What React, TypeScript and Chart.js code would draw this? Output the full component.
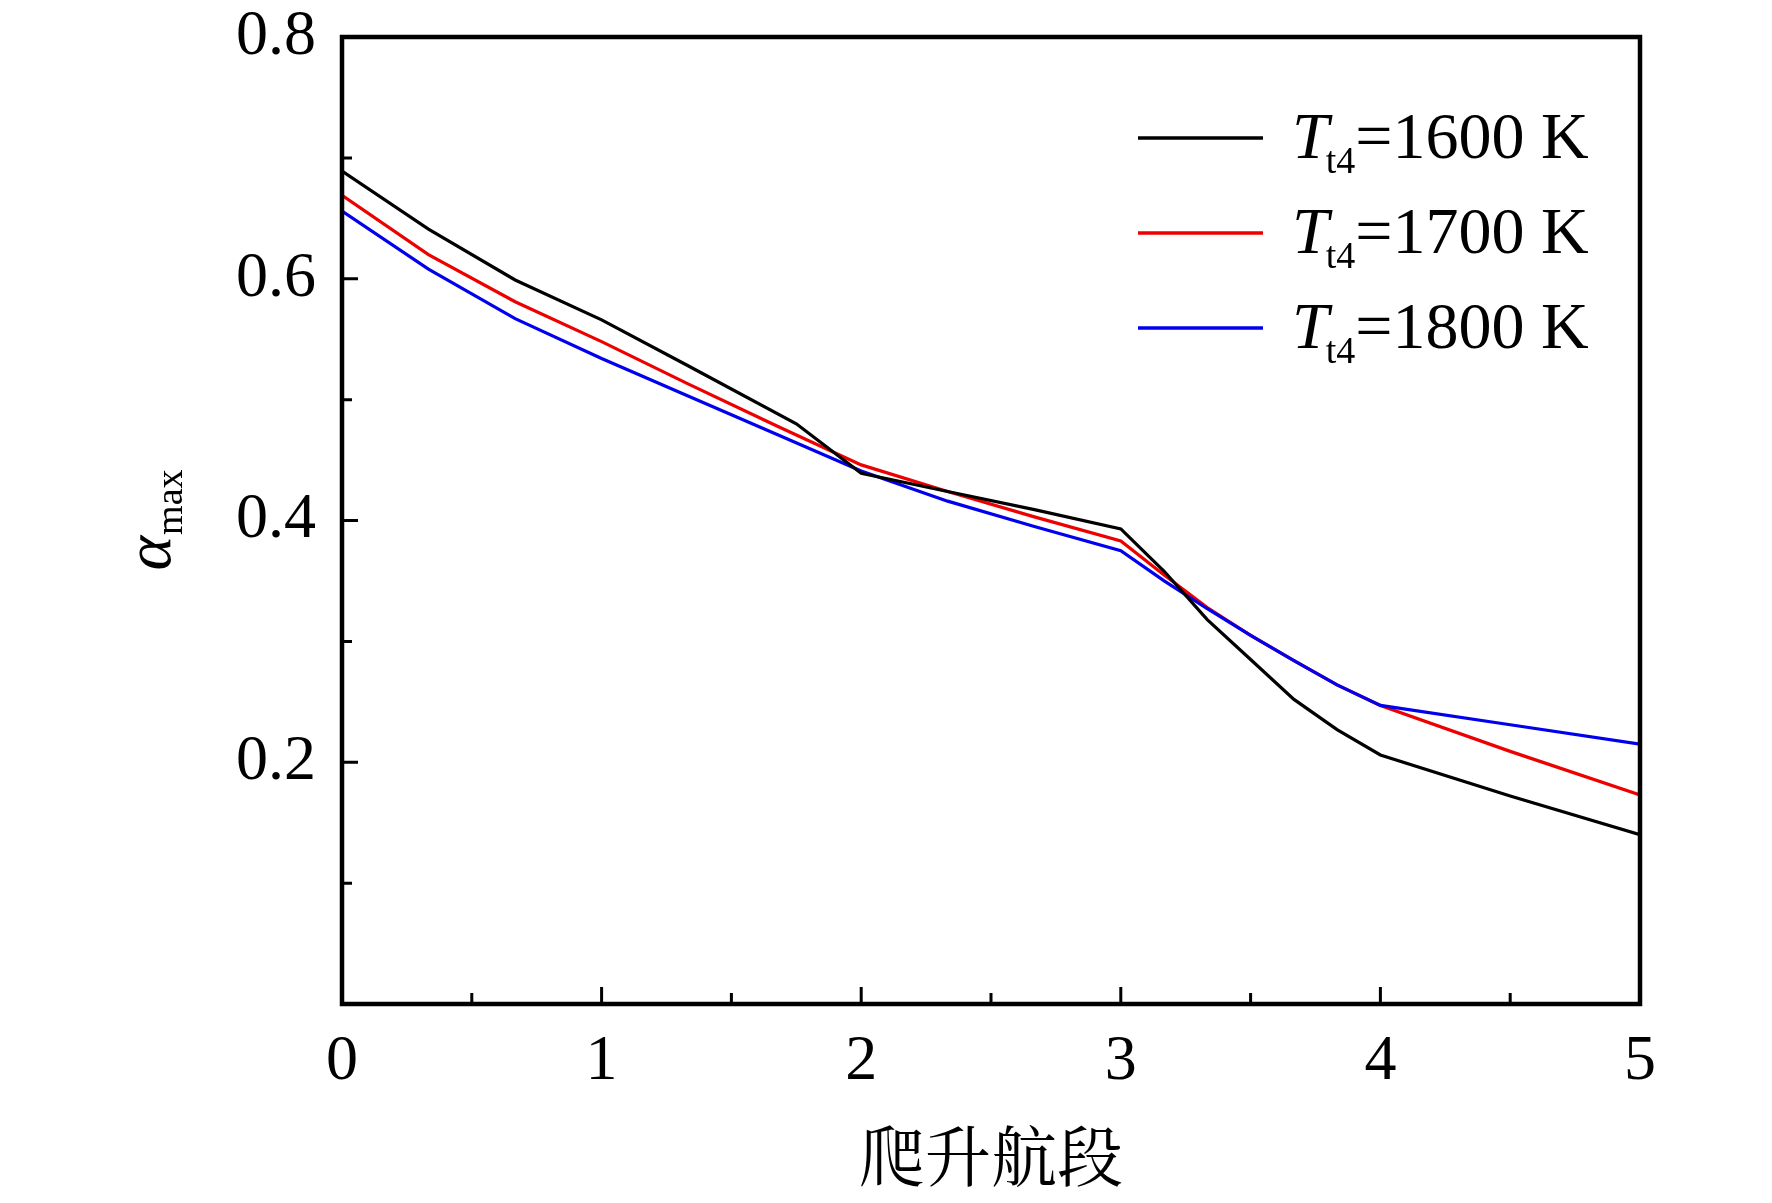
import React, { useEffect, useRef } from 'react';
import { Chart, registerables } from 'chart.js';

Chart.register(...registerables);

const SERIF = '"Liberation Serif", "Times New Roman", serif';
const CJK = '"Liberation Serif", "Noto Serif CJK SC", "Noto Sans CJK SC", serif';

// climb segment position (x) and alpha_max values
const xBlack = [0, 0.333, 0.667, 1, 1.333, 1.75, 2, 2.333, 2.667, 3, 3.167, 3.333, 3.5, 3.667, 3.833, 4, 4.5, 5];
const xRedBlue = [0, 0.333, 0.667, 1, 1.333, 1.667, 2, 2.333, 2.667, 3, 3.167, 3.333, 3.5, 3.667, 3.833, 4, 4.5, 5];
const alpha1600 = [0.689, 0.641, 0.599, 0.566, 0.528, 0.48, 0.439, 0.424, 0.409, 0.393, 0.358, 0.318, 0.285, 0.252, 0.227, 0.206, 0.172, 0.14];
const alpha1700 = [0.669, 0.62, 0.581, 0.548, 0.513, 0.479, 0.446, 0.424, 0.403, 0.383, 0.355, 0.328, 0.305, 0.284, 0.264, 0.247, 0.209, 0.173];
const alpha1800 = [0.656, 0.608, 0.567, 0.534, 0.503, 0.472, 0.441, 0.416, 0.395, 0.375, 0.35, 0.327, 0.305, 0.284, 0.264, 0.247, 0.231, 0.215];

const tempLabels = ['1600', '1700', '1800'];
const seriesColors = ['#000000', '#ee0000', '#0000ee'];
const xTitle = '爬升航段';

const toPoints = (xs, ys) => xs.map((x, i) => ({ x, y: ys[i] }));

// inward ticks, box frame, legend and y title
const decorPlugin = {
    id: 'decor',
    afterDatasetsDraw(chart) {
        const { ctx, chartArea: a, scales } = chart;
        const xs = scales.x;
        const ys = scales.y;
        ctx.save();
        ctx.strokeStyle = '#000';
        ctx.lineWidth = 3;
        ctx.beginPath();
        for (let k = 1; k < 10; k++) {
            const px = xs.getPixelForValue(k / 2);
            const len = k % 2 === 0 ? 17 : 11;
            ctx.moveTo(px, a.bottom);
            ctx.lineTo(px, a.bottom - len);
        }
        for (let k = 1; k < 8; k++) {
            const py = ys.getPixelForValue(k / 10);
            const len = k % 2 === 0 ? 16 : 10;
            ctx.moveTo(a.left, py);
            ctx.lineTo(a.left + len, py);
        }
        ctx.stroke();
        ctx.lineWidth = 4.5;
        ctx.strokeRect(a.left, a.top, a.right - a.left, a.bottom - a.top);
        ctx.restore();
    },
    afterDraw(chart) {
        const { ctx, chartArea: a } = chart;
        ctx.save();
        ctx.fillStyle = '#000';
        ctx.textBaseline = 'alphabetic';
        ctx.textAlign = 'left';

        // legend
        tempLabels.forEach((t, i) => {
            const rowY = a.top + 101 + i * 95;
            ctx.strokeStyle = seriesColors[i];
            ctx.lineWidth = 3.5;
            ctx.beginPath();
            ctx.moveTo(a.right - 502, rowY);
            ctx.lineTo(a.right - 377, rowY);
            ctx.stroke();
            let x = a.right - 348;
            ctx.font = `italic 66px ${SERIF}`;
            ctx.fillText('T', x, rowY + 20);
            x += ctx.measureText('T').width - 3;
            ctx.font = `38px ${SERIF}`;
            ctx.fillText('t4', x, rowY + 35);
            x += ctx.measureText('t4').width;
            ctx.font = `66px ${SERIF}`;
            ctx.fillText(`=${t} K`, x, rowY + 20);
        });

        // y axis title
        ctx.translate(a.left - 172, (a.top + a.bottom) / 2);
        ctx.rotate(-Math.PI / 2);
        ctx.font = `italic 66px ${SERIF}`;
        const wA = ctx.measureText('α').width;
        ctx.font = `38px ${SERIF}`;
        const wM = ctx.measureText('max').width;
        const start = -(wA + wM) / 2;
        ctx.font = `italic 66px ${SERIF}`;
        ctx.fillText('α', start, 0);
        ctx.font = `38px ${SERIF}`;
        ctx.fillText('max', start + wA + 1, 12);
        ctx.restore();
    },
};

const AlphaChart = () => {
    const canvasRef = useRef(null);
    const chartRef = useRef(null);

    useEffect(() => {
        document.body.style.margin = '0';
        if (!canvasRef.current) return;
        const ctx = canvasRef.current.getContext('2d');
        if (!ctx) return;

        const seriesData = [alpha1600, alpha1700, alpha1800];
        const seriesX = [xBlack, xRedBlue, xRedBlue];
        const drawOrder = [0, 2, 1];

        chartRef.current = new Chart(ctx, {
            type: 'line',
            data: {
                datasets: seriesData.map((ys, i) => ({
                    label: `Tt4=${tempLabels[i]} K`,
                    data: toPoints(seriesX[i], ys),
                    borderColor: seriesColors[i],
                    borderWidth: 3.2,
                    pointRadius: 0,
                    tension: 0,
                    fill: false,
                    order: drawOrder[i],
                })),
            },
            options: {
                animation: false,
                responsive: true,
                maintainAspectRatio: false,
                layout: { padding: { top: 37, right: 132, left: 0, bottom: 0 } },
                plugins: {
                    legend: { display: false },
                    tooltip: { enabled: false },
                },
                scales: {
                    x: {
                        type: 'linear',
                        min: 0,
                        max: 5,
                        grid: { display: false, drawTicks: false },
                        border: { display: false },
                        ticks: {
                            stepSize: 1,
                            padding: 20,
                            color: '#000',
                            font: { family: SERIF, size: 64 },
                            maxRotation: 0,
                        },
                        title: {
                            display: true,
                            text: xTitle,
                            color: '#000',
                            font: { family: CJK, size: 66 },
                            padding: { top: 0, bottom: 0 },
                        },
                        afterFit: (scale) => {
                            scale.height = 199;
                            scale.paddingLeft = 0;
                            scale.paddingRight = 0;
                        },
                    },
                    y: {
                        min: 0,
                        max: 0.8,
                        grid: { display: false, drawTicks: false },
                        border: { display: false },
                        ticks: {
                            stepSize: 0.2,
                            padding: 26,
                            color: '#000',
                            font: { family: SERIF, size: 64 },
                            callback: (v) => (v === 0 ? '' : Number(v).toFixed(1)),
                        },
                        afterFit: (scale) => {
                            scale.width = 342;
                            scale.paddingTop = 0;
                            scale.paddingBottom = 0;
                        },
                    },
                },
            },
            plugins: [decorPlugin],
        });

        return () => {
            if (chartRef.current) {
                chartRef.current.destroy();
                chartRef.current = null;
            }
        };
    }, []);

    return (
        <div style={{ position: 'relative', width: '1772px', height: '1203px', background: '#fff' }}>
            <canvas ref={canvasRef} />
        </div>
    );
};

export default function App() {
    return <AlphaChart />;
}
